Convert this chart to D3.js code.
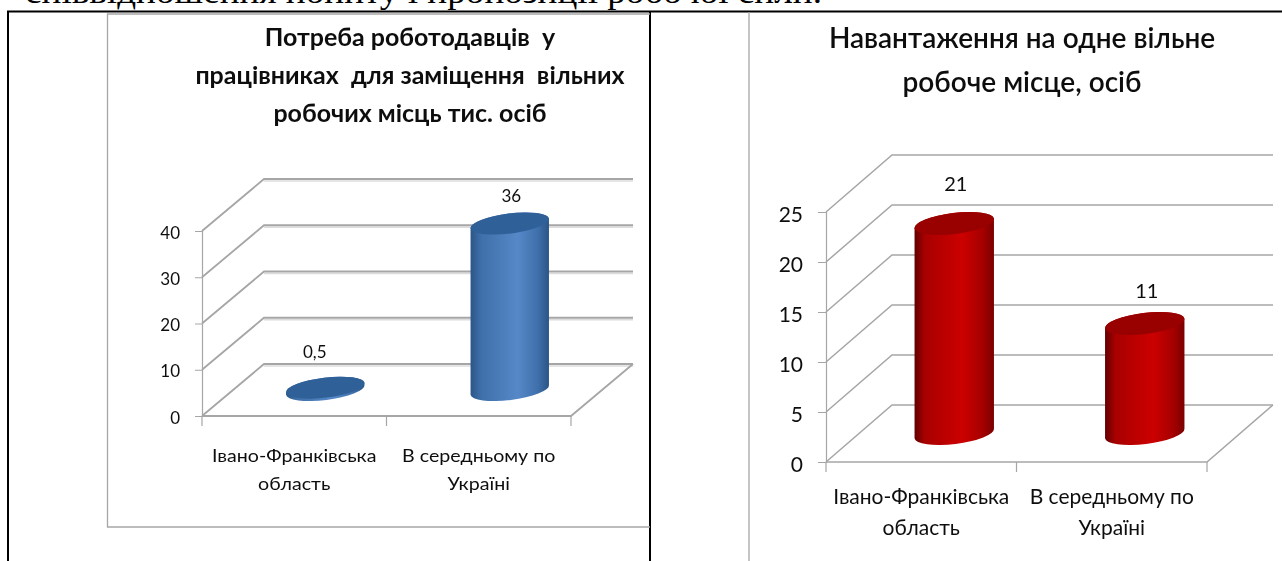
<!DOCTYPE html>
<html>
<head>
<meta charset="utf-8">
<script src="https://cdn.jsdelivr.net/npm/d3@7"></script>
<style>
  html, body { margin: 0; padding: 0; background: #fff; overflow: hidden; }
  svg { display: block; }
  text { font-family: Lato, "Open Sans", sans-serif; fill: #111; white-space: pre; }
</style>
</head>
<body>
<svg width="1282" height="561"></svg>
<script>
var categories = ["Івано-Франківська область", "В середньому по Україні"];
var categoryLines = [["Івано-Франківська", "область"], ["В середньому по", "Україні"]];

var demandValues = [0.5, 36];
var demandLabels = ["0,5", "36"];
var demandTicks = [0, 10, 20, 30, 40];
var demandTitle = ["Потреба роботодавців  у", "працівниках  для заміщення  вільних", "робочих місць тис. осіб"];

var loadValues = [21, 11];
var loadLabels = ["21", "11"];
var loadTicks = [0, 5, 10, 15, 20, 25];
var loadTitle = ["Навантаження на одне вільне", "робоче місце, осіб"];

var svg = d3.select("svg");
var defs = svg.append("defs");

defs.append("filter").attr("id", "soft").append("feGaussianBlur").attr("stdDeviation", 0.35);

function gradient(id, stops) {
  var g = defs.append("linearGradient").attr("id", id);
  stops.forEach(function(s) {
    g.append("stop").attr("offset", s[0]).attr("stop-color", s[1]);
  });
}
gradient("blueBody", [[0, "#2a5688"], [0.14, "#3f70aa"], [0.6, "#5688c8"], [0.86, "#3f70ab"], [1, "#2a5586"]]);
gradient("redBody", [[0, "#620000"], [0.13, "#a80000"], [0.6, "#cc0000"], [0.86, "#a50000"], [1, "#7a0000"]]);

// widen a text selection by a factor, the source picture was stretched sideways
function stretch(sel, factor) {
  sel.each(function() {
    d3.select(this)
        .attr("lengthAdjust", "spacingAndGlyphs")
        .attr("textLength", this.getComputedTextLength() * factor);
  });
}

// paragraph line cut by the top of the page
svg.append("text")
    .attr("x", 25).attr("y", 3)
    .style("font-family", "'Liberation Serif', serif")
    .style("font-size", "34px")
    .style("fill", "#000")
    .attr("lengthAdjust", "spacingAndGlyphs")
    .attr("textLength", 797)
    .text("співвідношення попиту і пропозиції робочої сили.");

// table borders
var border = svg.append("g").attr("stroke", "#000").attr("stroke-width", 2);
border.append("line").attr("x1", 7).attr("x2", 1282).attr("y1", 11.5).attr("y2", 11.5);
border.append("line").attr("x1", 8).attr("x2", 8).attr("y1", 11).attr("y2", 561);

// chart frames
var frame = svg.append("g").attr("fill", "none").attr("stroke", "#a6a6a6").attr("stroke-width", 1.3);
frame.append("path").attr("d", "M650,14H107.5V527H650");
frame.append("path").attr("d", "M749,12V561");

border.append("line").attr("x1", 650).attr("x2", 650).attr("y1", 11).attr("y2", 561);

function drawChart(o) {
  var g = svg.append("g");

  var x = d3.scaleBand().domain(o.categories).range([o.left, o.right]);
  var y = d3.scaleLinear().domain([0, o.max]).range([o.bottom, o.top]);

  var grid = g.append("g").attr("fill", "none");
  if (o.gridShadow) {
    grid.append("g").selectAll("path").data(o.ticks).enter().append("path")
        .attr("stroke", "#dcdcdc").attr("stroke-width", 1.5)
        .attr("d", function(d) {
          return d3.line()([[o.left + o.dx, y(d) + o.dy + 2], [o.right + o.dx, y(d) + o.dy + 2]]);
        });
  }
  grid.append("g").selectAll("path").data(o.ticks).enter().append("path")
      .attr("stroke", "#a6a6a6").attr("stroke-width", o.gridWidth)
      .attr("d", function(d) {
        return d3.line()([[o.left, y(d)], [o.left + o.dx, y(d) + o.dy], [o.right + o.dx, y(d) + o.dy]]);
      });
  // floor
  grid.append("path")
      .attr("stroke", "#a6a6a6").attr("stroke-width", o.gridWidth)
      .attr("d", d3.line()([[o.left, y(0)], [o.right, y(0)], [o.right + o.dx, y(0) + o.dy]]));

  var yAxis = d3.axisLeft(y).tickValues(o.ticks).tickSize(o.tickLen).tickPadding(o.tickPad);
  var yg = g.append("g").attr("transform", "translate(" + o.left + ",0)").call(yAxis);
  yg.select(".domain").attr("stroke", "#a6a6a6").attr("stroke-width", 1.2);
  yg.selectAll(".tick line").attr("stroke", "#a6a6a6");
  yg.selectAll(".tick text")
      .style("font-size", o.tickFont + "px")
      .style("font-family", "Lato, sans-serif")
      .attr("dy", o.tickDy)
      .attr("fill", "#111")
      .attr("filter", "url(#soft)");

  g.append("g").selectAll("line").data(d3.range(o.categories.length + 1)).enter().append("line")
      .attr("stroke", "#a6a6a6").attr("stroke-width", 1.2)
      .attr("x1", function(i) { return o.left + i * x.bandwidth(); })
      .attr("x2", function(i) { return o.left + i * x.bandwidth(); })
      .attr("y1", y(0)).attr("y2", y(0) + o.xTick);

  // cylinders, standing half way into the floor depth
  var cx = function(i) { return x(o.categories[i]) + x.bandwidth() / 2 + o.dx / 2; };
  var baseY = y(0) + o.dy / 2;
  var topY = function(v) { return baseY - (y(0) - y(v)); };
  var a = o.tilt * Math.PI / 180;
  var ex = o.rx * Math.cos(a), ey = o.rx * Math.sin(a);

  var bars = g.selectAll(".bar").data(o.values).enter().append("g").attr("class", "bar");
  bars.append("path")
      .attr("fill", "url(#" + o.bodyFill + ")")
      .attr("d", function(v, i) {
        var c = cx(i), t = topY(v);
        var arc = "A" + o.rx + "," + o.ry + " " + (-o.tilt) + " 0 0 ";
        return "M" + (c - ex) + "," + (t + ey)
          + "L" + (c - ex) + "," + (baseY + ey)
          + arc + (c + ex) + "," + (baseY - ey)
          + "L" + (c + ex) + "," + (t - ey)
          + arc + (c - ex) + "," + (t + ey) + "Z";
      });
  bars.append("ellipse")
      .attr("fill", o.capFill)
      .attr("rx", o.rx).attr("ry", o.ry)
      .attr("transform", function(v, i) {
        return "translate(" + cx(i) + "," + topY(v) + ") rotate(" + (-o.tilt) + ")";
      });

  bars.append("text")
      .attr("text-anchor", "middle")
      .attr("filter", "url(#soft)")
      .style("font-size", o.labelFont + "px")
      .attr("x", function(v, i) { return cx(i) + o.labelDx[i]; })
      .attr("y", function(v, i) { return topY(v) - o.labelGap[i]; })
      .text(function(v, i) { return o.labels[i]; });

  // category labels
  var cat = g.selectAll(".cat").data(o.lines).enter().append("g").attr("class", "cat");
  cat.selectAll("text").data(function(d, i) {
        return d.map(function(t) { return {t: t, i: i}; });
      }).enter().append("text")
      .attr("text-anchor", "middle")
      .attr("filter", "url(#soft)")
      .style("font-size", o.catFont + "px")
      .attr("x", function(d) { return x(o.categories[d.i]) + x.bandwidth() / 2; })
      .attr("y", function(d, j) { return y(0) + o.catY + j * o.catStep; })
      .text(function(d) { return d.t; })
      .call(stretch, o.catStretch);

  // title
  g.selectAll(".title").data(o.title).enter().append("text")
      .attr("class", "title")
      .attr("text-anchor", "middle")
      .attr("filter", "url(#soft)")
      .style("font-size", o.titleFont + "px")
      .style("font-weight", o.titleWeight)
      .attr("x", o.titleX)
      .attr("y", function(d, i) { return o.titleY + i * o.titleStep; })
      .text(function(d) { return d; })
      .call(stretch, o.titleStretch);
}

drawChart({
  categories: categories, lines: categoryLines, values: demandValues, labels: demandLabels,
  ticks: demandTicks, title: demandTitle, max: 40,
  left: 202, right: 571, top: 231, bottom: 416, dx: 62, dy: -52,
  gridWidth: 1.8, gridShadow: true,
  tickLen: 7, tickPad: 15, tickFont: 17, tickDy: "0.42em", xTick: 10,
  rx: 39.5, ry: 10, tilt: 7, bodyFill: "blueBody", capFill: "#2f6098",
  labelFont: 17, labelDx: [-10.5, 1.5], labelGap: [30, 21.5],
  catFont: 18, catStretch: 1.09, catY: 46, catStep: 28,
  titleFont: 24, titleStretch: 1.04, titleWeight: 700, titleX: 410, titleY: 46, titleStep: 38
});

drawChart({
  categories: categories, lines: categoryLines, values: loadValues, labels: loadLabels,
  ticks: loadTicks, title: loadTitle, max: 25,
  left: 826, right: 1207, top: 212, bottom: 462, dx: 66, dy: -57,
  gridWidth: 1.5, gridShadow: false,
  tickLen: 8, tickPad: 15, tickFont: 21, tickDy: "0.45em", xTick: 10,
  rx: 40, ry: 10.5, tilt: 7, bodyFill: "redBody", capFill: "#990000",
  labelFont: 20, labelDx: [1.5, 2], labelGap: [32.5, 25.5],
  catFont: 21, catStretch: 1.0, catY: 42, catStep: 31,
  titleFont: 28, titleStretch: 1.0, titleWeight: 600, titleX: 1022, titleY: 48, titleStep: 44
});
</script>
</body>
</html>
